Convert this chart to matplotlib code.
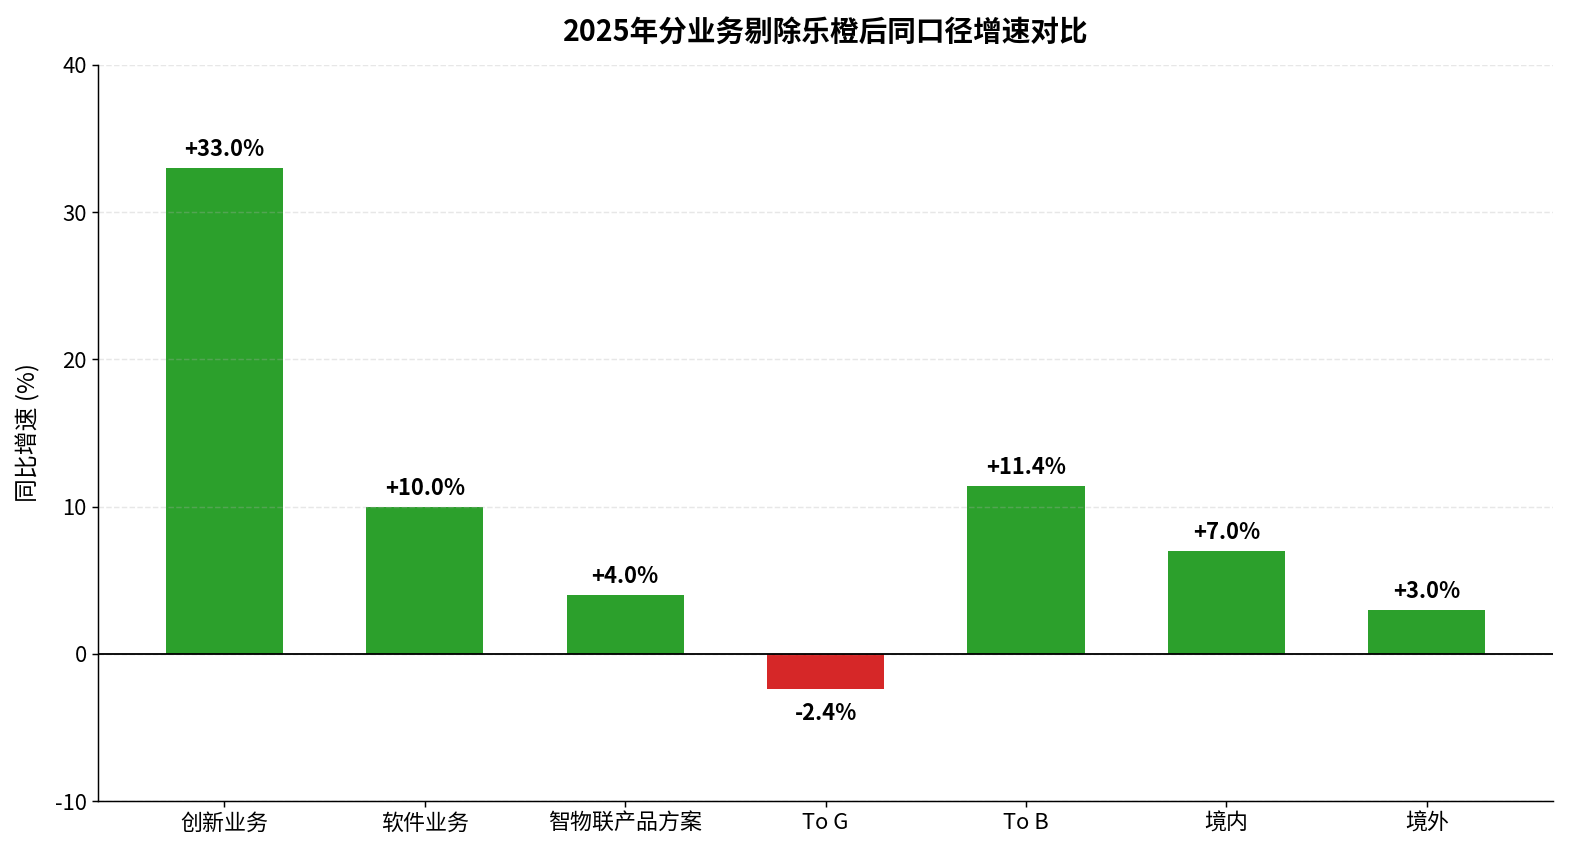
import matplotlib
matplotlib.use("Agg")
import matplotlib.pyplot as plt

plt.rcParams['font.family'] = ['Noto Sans CJK SC', 'DejaVu Sans']
plt.rcParams['axes.unicode_minus'] = False

categories = ['创新业务', '软件业务', '智物联产品方案', 'To G', 'To B', '境内', '境外']
values = [33.0, 10.0, 4.0, -2.4, 11.4, 7.0, 3.0]
yticks = [-10, 0, 10, 20, 30, 40]

s = 1.32
fig = plt.figure(figsize=(15.82, 8.64), dpi=100)
ax = fig.add_axes([0.062, 0.0729, 0.9197, 0.8519])

colors = ['#2ca02c' if v >= 0 else '#d62728' for v in values]
x = list(range(len(categories)))
ax.bar(x, values, width=0.585, color=colors, zorder=1)
ax.axhline(0, color='black', linewidth=1.0 * s, zorder=4)

for xi, v in zip(x, values):
    if v >= 0:
        ax.annotate(f'+{v:.1f}%', (xi, v), xytext=(0, 5), textcoords='offset points',
                    ha='center', va='bottom', fontsize=12 * s, fontweight='bold')
    else:
        ax.annotate(f'{v:.1f}%', (xi, v), xytext=(0, -9), textcoords='offset points',
                    ha='center', va='top', fontsize=12 * s, fontweight='bold')

ax.set_xlim(-0.63, 6.63)
ax.set_ylim(-10, 40)
ax.set_yticks(yticks)
ax.set_xticks(x)
ax.set_xticklabels(categories)
ax.tick_params(axis='both', labelsize=12 * s, width=0.8 * s, length=3.5 * s)
ax.set_ylabel('同比增速 (%)', fontsize=13 * s, labelpad=10)
ax.set_title('2025年分业务剔除乐橙后同口径增速对比', fontsize=15.6 * s, fontweight='bold', pad=17)
ax.grid(axis='y', linestyle='--', color='#b0b0b0', alpha=0.3, linewidth=0.8 * s, zorder=1.5)
ax.spines['top'].set_visible(False)
ax.spines['right'].set_visible(False)
ax.spines['left'].set_linewidth(0.8 * s)
ax.spines['bottom'].set_linewidth(0.8 * s)

fig.savefig('out.png', dpi=100)
